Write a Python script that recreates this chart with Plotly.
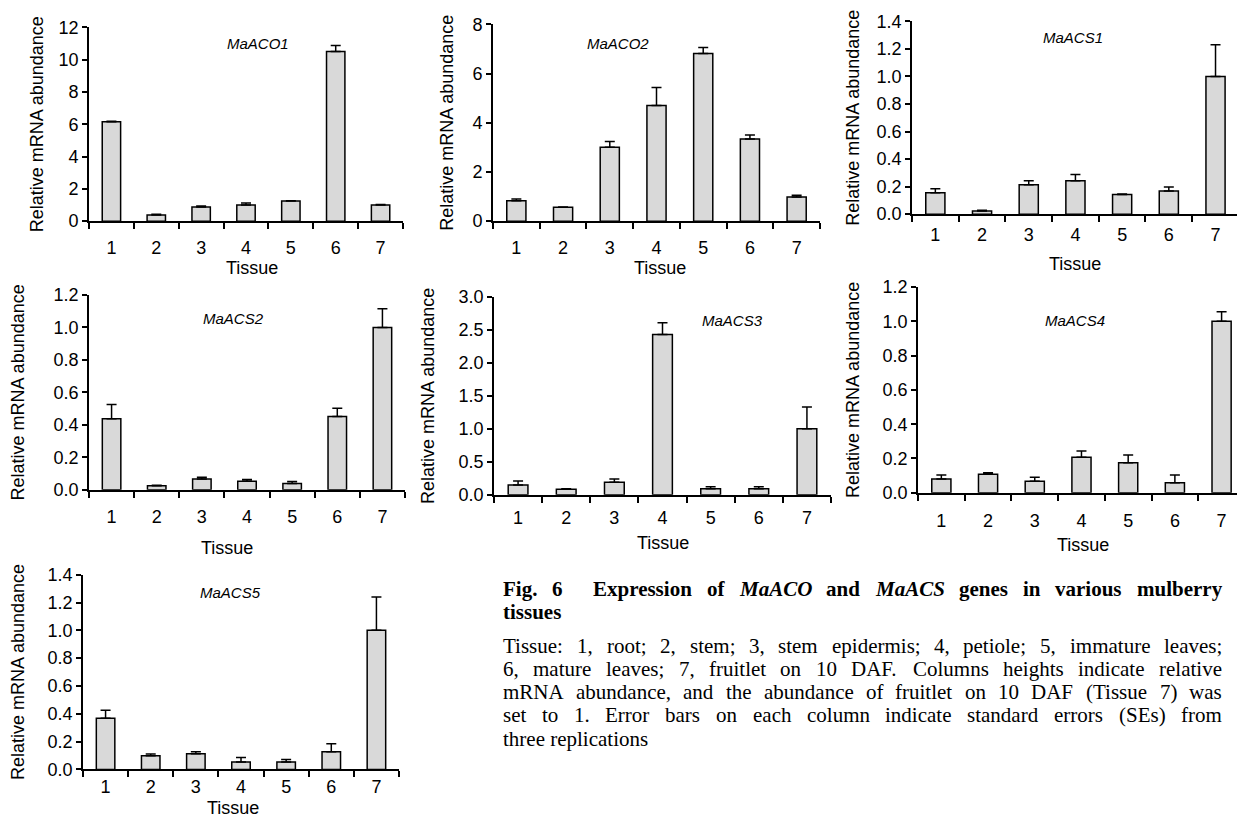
import plotly.graph_objects as go

W, H = 1237, 825

tissues = ["1", "2", "3", "4", "5", "6", "7"]

genes = ["MaACO1", "MaACO2", "MaACS1", "MaACS2", "MaACS3", "MaACS4", "MaACS5"]

aco1_mean = [6.15, 0.38, 0.88, 1.00, 1.24, 10.50, 1.00]
aco1_se = [0.04, 0.05, 0.05, 0.13, 0.03, 0.38, 0.03]

aco2_mean = [0.83, 0.56, 3.00, 4.70, 6.82, 3.34, 0.98]
aco2_se = [0.07, 0.01, 0.24, 0.73, 0.24, 0.16, 0.07]

acs1_mean = [0.155, 0.022, 0.213, 0.242, 0.143, 0.169, 1.00]
acs1_se = [0.029, 0.006, 0.029, 0.046, 0.003, 0.029, 0.23]

acs2_mean = [0.438, 0.025, 0.066, 0.053, 0.039, 0.452, 1.00]
acs2_se = [0.088, 0.003, 0.012, 0.011, 0.012, 0.050, 0.116]

acs3_mean = [0.15, 0.085, 0.19, 2.43, 0.09, 0.09, 1.00]
acs3_se = [0.06, 0.005, 0.05, 0.18, 0.03, 0.03, 0.33]

acs4_mean = [0.080, 0.108, 0.068, 0.208, 0.175, 0.058, 1.00]
acs4_se = [0.024, 0.009, 0.023, 0.036, 0.045, 0.046, 0.056]

acs5_mean = [0.368, 0.099, 0.113, 0.054, 0.054, 0.127, 1.00]
acs5_se = [0.057, 0.012, 0.014, 0.031, 0.017, 0.058, 0.24]

y_max = [12, 8, 1.4, 1.2, 3.0, 1.2, 1.4]
y_step = [2, 2, 0.2, 0.2, 0.5, 0.2, 0.2]
y_fmt = ["{:.0f}", "{:.0f}", "{:.1f}", "{:.1f}", "{:.1f}", "{:.1f}", "{:.1f}"]

means = [aco1_mean, aco2_mean, acs1_mean, acs2_mean, acs3_mean, acs4_mean, acs5_mean]
ses = [aco1_se, aco2_se, acs1_se, acs2_se, acs3_se, acs4_se, acs5_se]

# caption: (word, style, gap-weight after word)
caption_title_words = [("Fig.", "b", 1), ("6", "b", 2), ("Expression", "b", 1), ("of", "b", 1),
                       ("MaACO", "bi", 1), ("and", "b", 1), ("MaACS", "bi", 1), ("genes", "b", 1),
                       ("in", "b", 1), ("various", "b", 1), ("mulberry", "b", 0)]
caption_title_line2 = "tissues"
caption_body = [
    "Tissue: 1, root; 2, stem; 3, stem epidermis; 4, petiole; 5, immature leaves;",
    "6, mature leaves; 7, fruitlet on 10 DAF. Columns heights indicate relative",
    "mRNA abundance, and the abundance of fruitlet on 10 DAF (Tissue 7) was",
    "set to 1. Error bars on each column indicate standard errors (SEs) from",
    "three replications",
]

# Times (Liberation Serif) advance widths, per 1000 em
TR = dict(zip("abcdefghijklmnopqrstuvwxyz",
              [444, 500, 444, 500, 444, 333, 500, 500, 278, 278, 500, 278, 778, 500, 500, 500, 500, 333, 389, 278, 500, 500, 722, 500, 500, 444]))
TR.update(dict(zip("ABCDEFGHIJKLMNOPQRSTUVWXYZ",
                   [722, 667, 667, 722, 611, 556, 722, 722, 333, 389, 722, 611, 889, 722, 722, 556, 722, 667, 556, 611, 722, 722, 944, 722, 722, 611])))
TR.update({c: 500 for c in "0123456789"})
TR.update({" ": 250, ",": 250, ".": 250, ":": 278, ";": 278, "(": 333, ")": 333})
TB = dict(zip("abcdefghijklmnopqrstuvwxyz",
              [500, 556, 444, 556, 444, 333, 500, 556, 278, 333, 556, 278, 833, 556, 500, 556, 556, 444, 389, 333, 556, 500, 722, 500, 500, 444]))
TB.update({"F": 611, "E": 667, ".": 250, "6": 500})
TBI = {"M": 889, "a": 500, "A": 667, "C": 667, "O": 722, "S": 556}


def text_width(s, table, size):
    return sum(table.get(c, 500) for c in s) * size / 1000.0


def fy(t):
    # vertical placement correction (target pixel row -> layout pixel row)
    return (t - 9.6) / 0.977


# layout geometry in pixels: (x_left, x_right, y_top, y_bottom)
boxes = [
    (89, 403, 27, 221),
    (493, 820, 24, 221),
    (912, 1237, 21, 214),
    (89, 405, 295, 490),
    (494, 831, 297, 495),
    (918, 1237, 287, 493),
    (83, 399, 575, 770),
]
x_ranges = [[-0.5, 6.5], [-0.5, 6.5], [-0.5, 6.46], [-0.5, 6.5], [-0.5, 6.5], [-0.5, 6.33], [-0.5, 6.5]]
label_standoff = [9, 9, 3, 10, 6, 11, 0]
gene_pos = [(258, 43), (618, 43), (1073, 37), (233, 318), (732, 320), (1075, 320), (230, 593)]
tissue_pos = [(252, 268), (660, 268), (1075, 264), (227, 548), (663, 543), (1083, 545), (233, 819)]
ytitle_x = [37, 447, 853, 18, 428, 853, 18]

SANS = "Liberation Sans, Arial, sans-serif"
SERIF = "Liberation Serif, Times New Roman, serif"

fig = go.Figure()
annotations = []

for i in range(7):
    xa = "x" if i == 0 else f"x{i+1}"
    ya = "y" if i == 0 else f"y{i+1}"
    fig.add_trace(go.Bar(
        x=tissues, y=means[i], xaxis=xa, yaxis=ya,
        width=0.41,
        marker=dict(color="#d9d9d9", line=dict(color="black", width=1.5)),
        error_y=dict(type="data", array=ses[i], arrayminus=[0] * 7, symmetric=False,
                     color="black", thickness=1.5, width=5),
        showlegend=False, hoverinfo="skip",
    ))
    x0, x1, yt, yb = boxes[i]
    yt, yb = fy(yt), fy(yb)
    xkey = "xaxis" if i == 0 else f"xaxis{i+1}"
    ykey = "yaxis" if i == 0 else f"yaxis{i+1}"
    n = int(round(y_max[i] / y_step[i]))
    tv = [round(k * y_step[i], 4) for k in range(n + 1)]
    fig.update_layout(**{
        xkey: dict(domain=[x0 / W, x1 / W], anchor=ya, type="category",
                   range=x_ranges[i], showline=True, linecolor="black", linewidth=2,
                   ticks="outside", tickson="boundaries", ticklen=6, tickwidth=1.5,
                   tickcolor="black", showgrid=False, zeroline=False,
                   ticklabelstandoff=label_standoff[i],
                   tickfont=dict(family=SANS, size=18, color="black"), fixedrange=True),
        ykey: dict(domain=[max(0, 1 - yb / H), min(1, 1 - yt / H)], anchor=xa, range=[0, y_max[i]],
                   showline=True, linecolor="black", linewidth=1.8,
                   ticks="outside", ticklen=5, tickwidth=1.5, tickcolor="black",
                   tickvals=tv, ticktext=[y_fmt[i].format(v) for v in tv],
                   showgrid=False, zeroline=False,
                   tickfont=dict(family=SANS, size=18, color="black"), fixedrange=True),
    })
    gx, gy = gene_pos[i]
    annotations.append(dict(text=f"<i>{genes[i]}</i>", x=gx / W, y=1 - fy(gy) / H, xref="paper", yref="paper",
                            showarrow=False, xanchor="center", yanchor="middle",
                            font=dict(family=SANS, size=15, color="black")))
    tx, ty = tissue_pos[i]
    annotations.append(dict(text="Tissue", x=tx / W, y=1 - min(fy(ty), 818) / H, xref="paper", yref="paper",
                            showarrow=False, xanchor="center", yanchor="middle",
                            font=dict(family=SANS, size=18, color="black")))
    annotations.append(dict(text="Relative mRNA abundance", x=ytitle_x[i] / W, y=1 - (yt + yb) / 2 / H,
                            xref="paper", yref="paper", textangle=-90,
                            showarrow=False, xanchor="center", yanchor="middle",
                            font=dict(family=SANS, size=18, color="black")))

# ---- caption, justified word by word ----
CAP_L, CAP_R = 503, 1222
CAP_SIZE = 21


def word_ann(text, xpx, ypx):
    return dict(text=text, x=xpx / W, y=1 - fy(ypx) / H, xref="paper", yref="paper",
                showarrow=False, xanchor="left", yanchor="middle", align="left",
                borderpad=0, borderwidth=0,
                font=dict(family=SERIF, size=CAP_SIZE, color="black"))


# bold title line
tables = {"b": TB, "bi": TBI}
tw_list = [text_width(w, tables[s], CAP_SIZE) for w, s, _ in caption_title_words]
gap_units = sum(g for _, _, g in caption_title_words)
gap = (CAP_R - CAP_L - sum(tw_list)) / gap_units
x = CAP_L
for (w, s, g), wd in zip(caption_title_words, tw_list):
    txt = f"<b><i>{w}</i></b>" if s == "bi" else f"<b>{w}</b>"
    annotations.append(word_ann(txt, x, 589))
    x += wd + gap * g
annotations.append(word_ann(f"<b>{caption_title_line2}</b>", CAP_L, 612))

# body lines
for j, line in enumerate(caption_body):
    ypx = 646 + 23.3 * j
    if j < len(caption_body) - 1:
        words = line.split(" ")
        wds = [text_width(w, TR, CAP_SIZE) for w in words]
        gap = (CAP_R - CAP_L - sum(wds)) / (len(words) - 1)
        x = CAP_L
        for w, wd in zip(words, wds):
            annotations.append(word_ann(w, x, ypx))
            x += wd + gap
    else:
        annotations.append(word_ann(line, CAP_L, ypx))

fig.update_layout(
    width=W, height=H,
    margin=dict(l=0, r=0, t=0, b=0),
    paper_bgcolor="white", plot_bgcolor="white",
    bargap=0.59,
    hovermode=False,
    annotations=annotations,
)

fig.write_html("out.html", config={"displayModeBar": False},
               post_script="document.body.style.margin='0px';document.body.style.overflow='hidden';")
